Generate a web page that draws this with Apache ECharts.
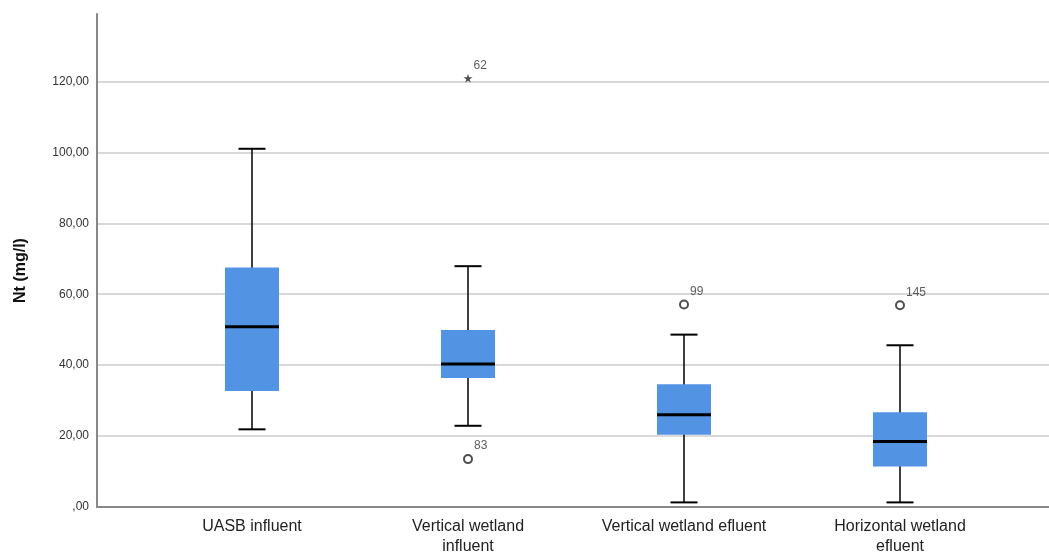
<!DOCTYPE html>
<html>
<head>
<meta charset="utf-8">
<script src="https://cdn.jsdelivr.net/npm/echarts@6/dist/echarts.min.js"></script>
<style>
  html, body { margin: 0; padding: 0; background: #fff; }
  #chart { width: 1049px; height: 558px; }
</style>
</head>
<body>
<div id="chart"></div>
<script>
// categories (x axis)
const categories = ['UASB influent', 'Vertical wetland\ninfluent', 'Vertical wetland efluent', 'Horizontal wetland\nefluent']
// box statistics
const lows = [21.9, 22.9, 1.3, 1.3]
const q1s = [32.7, 36.4, 20.4, 11.4]
const medians = [50.8, 40.3, 26.0, 18.5]
const q3s = [67.5, 49.9, 34.6, 26.7]
const highs = [101.0, 67.9, 48.6, 45.6]
// outliers: [category index, value, case id]
const outliers = [[1, 13.5, '83'], [2, 57.1, '99'], [3, 56.9, '145']]
// extreme values (star)
const extremes = [[1, 120.9, '62']]
// y ticks
const yMax = 139
const yStep = 20

const boxColor = '#5393e3'
const fontFamily = '"Liberation Sans", Arial, sans-serif'

const chart = echarts.init(document.getElementById('chart'))

//画箱体：须线、端帽、箱子、中位线
function renderBox(params, api) {
  const x = api.coord([api.value(0), 0])[0]
  const yLow = api.coord([api.value(0), api.value(1)])[1]
  const yQ1 = api.coord([api.value(0), api.value(2)])[1]
  const yMed = api.coord([api.value(0), api.value(3)])[1]
  const yQ3 = api.coord([api.value(0), api.value(4)])[1]
  const yHigh = api.coord([api.value(0), api.value(5)])[1]
  const hw = 27
  const cw = 13.5
  const line = (x1, y1, x2, y2, w) => ({
    type: 'line',
    shape: { x1, y1, x2, y2 },
    style: { stroke: '#000', lineWidth: w }
  })
  return {
    type: 'group',
    children: [
      line(x, yLow, x, yHigh, 1.5),
      line(x - cw, yLow, x + cw, yLow, 2),
      line(x - cw, yHigh, x + cw, yHigh, 2),
      {
        type: 'rect',
        shape: { x: x - hw, y: yQ3, width: hw * 2, height: yQ1 - yQ3 },
        style: { fill: boxColor }
      },
      line(x - hw, yMed, x + hw, yMed, 3)
    ]
  }
}

const boxData = categories.map((c, i) => [i, lows[i], q1s[i], medians[i], q3s[i], highs[i]])

const outlierLabel = {
  show: true,
  position: 'right',
  distance: 0,
  offset: [1, -13],
  formatter: '{b}',
  color: '#333',
  fontSize: 12,
  fontFamily
}

chart.setOption({
  animation: false,
  grid: [
    { left: 97, right: 0, top: 14, bottom: 51 },
    { left: 144, right: 41, top: 14, bottom: 51 }
  ],
  xAxis: [
    {
      //外框轴线
      type: 'value', gridIndex: 0, min: 0, max: 1,
      axisLine: { show: true, lineStyle: { color: '#888', width: 2 } },
      axisTick: { show: false },
      axisLabel: { show: false },
      splitLine: { show: false }
    },
    {
      type: 'category', gridIndex: 1, data: categories,
      axisLine: { show: false },
      axisTick: { show: false },
      axisLabel: {
        margin: 10, fontSize: 16, lineHeight: 20, color: '#222', fontFamily,
        interval: 0
      },
      splitLine: { show: false }
    }
  ],
  yAxis: [
    {
      type: 'value', gridIndex: 0, min: 0, max: yMax, interval: yStep,
      name: 'Nt (mg/l)',
      nameLocation: 'middle',
      nameGap: 68,
      nameTextStyle: { fontSize: 16, fontWeight: 'bold', color: '#111', fontFamily, padding: [0, 20, 0, 0] },
      axisLine: { show: true, lineStyle: { color: '#888', width: 2 } },
      axisTick: { show: false },
      axisLabel: {
        margin: 8, fontSize: 12, color: '#333', fontFamily,
        formatter: v => (v % yStep === 0 ? (v === 0 ? ',00' : v + ',00') : '')
      },
      splitLine: { show: true, showMinLine: false, showMaxLine: false, lineStyle: { color: '#cccccc', width: 1.5 } }
    },
    {
      type: 'value', gridIndex: 1, min: 0, max: yMax, interval: yStep, show: false,
      splitLine: { show: false }
    }
  ],
  series: [
    {
      type: 'custom',
      xAxisIndex: 1, yAxisIndex: 1,
      renderItem: renderBox,
      encode: { x: 0, y: [1, 2, 3, 4, 5] },
      data: boxData
    },
    {
      type: 'scatter',
      xAxisIndex: 1, yAxisIndex: 1,
      symbol: 'emptyCircle',
      symbolSize: 8,
      itemStyle: { color: '#222', borderColor: '#222', borderWidth: 1 },
      label: outlierLabel,
      data: outliers.map(o => ({ value: [o[0], o[1]], name: o[2] }))
    },
    {
      type: 'scatter',
      xAxisIndex: 1, yAxisIndex: 1,
      symbol: 'path://M50,0 L61,35 L98,35 L68,57 L79,91 L50,70 L21,91 L32,57 L2,35 L39,35 Z',
      symbolSize: 9,
      itemStyle: { color: '#222' },
      label: outlierLabel,
      data: extremes.map(o => ({ value: [o[0], o[1]], name: o[2] }))
    }
  ]
})
</script>
</body>
</html>
